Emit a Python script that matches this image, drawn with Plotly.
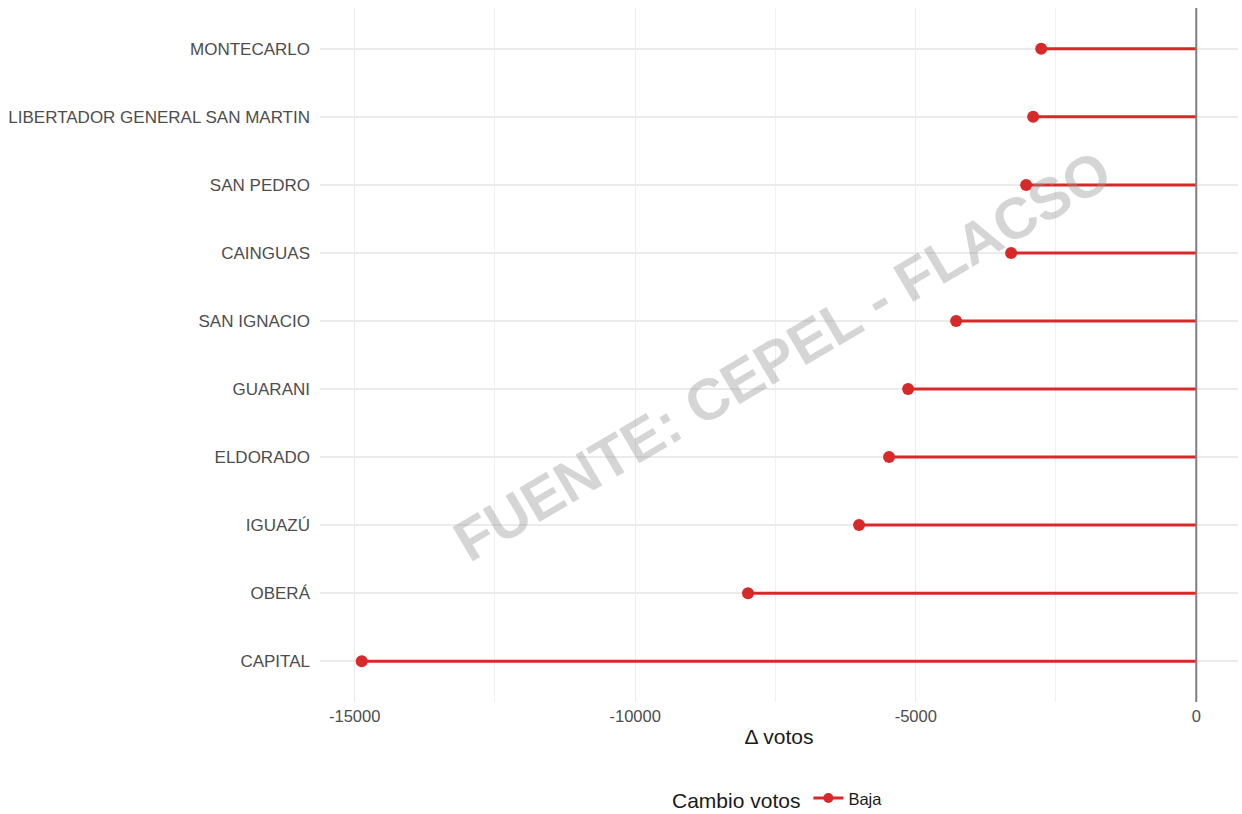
import plotly.graph_objects as go

departamentos = ["MONTECARLO", "LIBERTADOR GENERAL SAN MARTIN", "SAN PEDRO", "CAINGUAS",
                 "SAN IGNACIO", "GUARANI", "ELDORADO", "IGUAZÚ", "OBERÁ", "CAPITAL"]
delta_votos = [-2764, -2907, -3032, -3300, -4280, -5136, -5475, -6010, -7990, -14874]
x_ticks = [-15000, -10000, -5000, 0]
x_tick_labels = ["-15000", "-10000", "-5000", "0"]

RED = "#D7282A"
FONT = "Liberation Sans, Arial, Helvetica, sans-serif"

seg_x, seg_y = [], []
for d, v in zip(departamentos, delta_votos):
    seg_x += [0, v, None]
    seg_y += [d, d, None]

fig = go.Figure()
fig.add_trace(go.Scatter(x=seg_x, y=seg_y, mode="lines",
                         line=dict(color=RED, width=3), showlegend=False,
                         hoverinfo="skip"))
fig.add_trace(go.Scatter(x=delta_votos, y=departamentos, mode="markers",
                         marker=dict(color=RED, size=12), showlegend=False))
fig.add_trace(go.Scatter(x=[None], y=[None], mode="lines+markers", name="Baja",
                         line=dict(color=RED, width=3),
                         marker=dict(color=RED, size=10)))

fig.add_shape(type="line", xref="x", yref="paper", x0=0, x1=0, y0=0, y1=1,
              line=dict(color="#7f7f7f", width=2), layer="above")

fig.add_annotation(text="<b>FUENTE: CEPEL - FLACSO</b>", xref="paper", yref="paper",
                   x=0.503, y=0.5, showarrow=False, textangle=-30.5,
                   font=dict(family=FONT, size=58, color="rgba(150,150,150,0.40)"))

fig.update_layout(
    width=1242, height=814,
    margin=dict(l=320, r=4, t=8, b=112, autoexpand=False),
    paper_bgcolor="white", plot_bgcolor="white",
    font=dict(family=FONT, color="#4d4d4d"),
    xaxis=dict(range=[-15618, 744], tickvals=x_ticks, ticktext=x_tick_labels,
               showgrid=True, gridcolor="#ebebeb", gridwidth=1.3,
               minor=dict(dtick=2500, tick0=0, showgrid=True, gridcolor="#efefef", gridwidth=1.1),
               zeroline=False, showline=False, ticks="", automargin=False,
               ticklabelstandoff=2,
               tickfont=dict(size=16.5, color="#4d4d4d"),
               title=dict(text="Δ votos", font=dict(size=21, color="#1a1a1a"), standoff=5)),
    yaxis=dict(categoryorder="array", categoryarray=departamentos[::-1],
               range=[-0.6, 9.6], showgrid=True, gridcolor="#ebebeb", gridwidth=2,
               zeroline=False, showline=False, ticks="", ticklabelstandoff=9, automargin=False,
               tickfont=dict(size=17, color="#4d4d4d")),
    legend=dict(orientation="h", x=0.5, xanchor="center", y=-0.141, yanchor="middle",
                title=dict(text="Cambio votos", font=dict(size=21, color="#1a1a1a"), side="left"),
                font=dict(size=16.5, color="#1a1a1a"), itemwidth=30),
)

fig.write_html("out.html", config={"displayModeBar": False},
               post_script="document.body.style.margin='0';")
